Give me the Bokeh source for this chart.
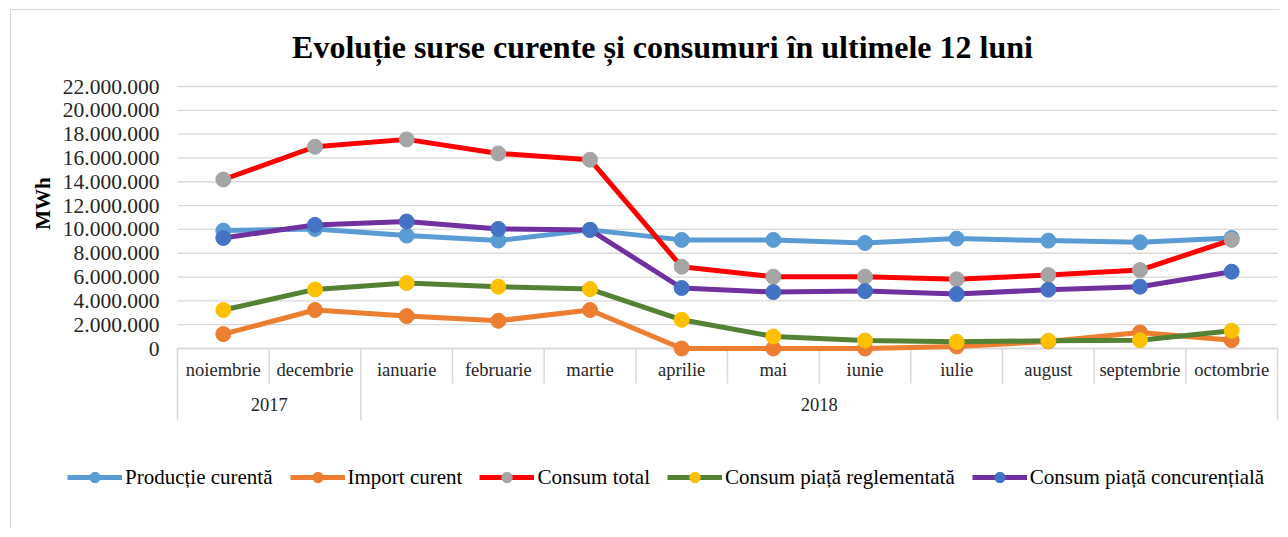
from bokeh.plotting import figure
from bokeh.models import Range1d, Legend, LegendItem, Label
from bokeh.core.properties import value
from bokeh.embed import file_html
from bokeh.resources import INLINE

# ---------------- data ----------------
months = ["noiembrie", "decembrie", "ianuarie", "februarie", "martie", "aprilie",
          "mai", "iunie", "iulie", "august", "septembrie", "octombrie"]
years = ["2017", "2018"]
months_per_year = [2, 10]

productie_curenta = [9900000, 10040000, 9480000, 9060000, 9960000, 9120000,
                     9120000, 8860000, 9230000, 9060000, 8920000, 9280000]
import_curent = [1210000, 3230000, 2720000, 2330000, 3230000, 0,
                 0, 0, 170000, 590000, 1350000, 700000]
consum_total = [14190000, 16940000, 17560000, 16380000, 15850000, 6870000,
                6030000, 6030000, 5810000, 6170000, 6590000, 9120000]
consum_reglementata = [3230000, 4960000, 5500000, 5190000, 4990000, 2410000,
                       1010000, 670000, 560000, 650000, 700000, 1490000]
consum_concurentiala = [9280000, 10380000, 10660000, 10040000, 9960000, 5080000,
                        4740000, 4820000, 4570000, 4940000, 5190000, 6450000]

y_ticks = [0, 2000000, 4000000, 6000000, 8000000, 10000000, 12000000,
           14000000, 16000000, 18000000, 20000000, 22000000]
y_tick_labels = ["0", "2.000.000", "4.000.000", "6.000.000", "8.000.000", "10.000.000",
                 "12.000.000", "14.000.000", "16.000.000", "18.000.000", "20.000.000",
                 "22.000.000"]

series_names = ["Producție curentă", "Import curent", "Consum total",
                "Consum piață reglementată", "Consum piață concurențială"]
series_values = [productie_curenta, import_curent, consum_total,
                 consum_reglementata, consum_concurentiala]
line_colors = ["#5B9BD5", "#ED7D31", "#FF0000", "#548235", "#7030A0"]
marker_colors = ["#5B9BD5", "#ED7D31", "#A5A5A5", "#FFC000", "#4472C4"]

title_text = "Evoluție surse curente și consumuri în ultimele 12 luni"
y_title = "MWh"

# ---------------- layout (page pixels) ----------------
FONT = "Liberation Serif"
GRID = "#D9D9D9"
TXT = "#262626"
X0, Y0 = 11, 10            # canvas origin on the page
W, H = 1269, 519           # canvas size
PL, PR = 177, 1277         # plot area left / right
PZ, PT = 348, 86           # value 0 / top tick

n = len(months)
x_per_px = n / (PR - PL)
y_per_px = y_ticks[-1] / (PZ - PT)


def X(px):
    return (px - PL) * x_per_px


def Y(py):
    return (PZ - py) * y_per_px


p = figure(width=W, height=H, output_backend="svg", toolbar_location=None,
           x_range=Range1d(X(X0), X(X0 + W)), y_range=Range1d(Y(Y0 + H), Y(Y0)),
           x_axis_type=None, y_axis_type=None,
           min_border=0, min_border_left=0, min_border_right=0,
           min_border_top=0, min_border_bottom=0)
p.styles = {"margin-left": "10px", "margin-top": "9px",
            "border-left": "1px solid #D9D9D9", "border-top": "1px solid #D9D9D9"}
p.outline_line_color = None
p.background_fill_color = "white"
p.border_fill_color = "white"
p.xgrid.visible = False
p.ygrid.visible = False

# horizontal gridlines and value labels
p.segment(x0=[0] * len(y_ticks), y0=y_ticks, x1=[n] * len(y_ticks), y1=y_ticks,
          line_color=GRID, line_width=1.3)
p.text(x=[X(159)] * len(y_ticks), y=y_ticks, text=y_tick_labels, text_font=value(FONT),
       text_font_size="21.5px", text_align="right", text_baseline="middle",
       text_color=TXT)

# category box (multi-level axis)
xs = [i + 0.5 for i in range(n)]
group_bounds = [0]
for c in months_per_year:
    group_bounds.append(group_bounds[-1] + c)
sx = list(range(n + 1))
sy1 = [Y(420) if k in group_bounds else Y(383) for k in sx]
p.segment(x0=sx, y0=[0] * len(sx), x1=sx, y1=sy1, line_color=GRID, line_width=1.5)
p.segment(x0=[0], y0=[0], x1=[n], y1=[0], line_color=GRID, line_width=1.5)
p.text(x=xs, y=[Y(369)] * n, text=months, text_font=value(FONT), text_font_size="18.5px",
       text_align="center", text_baseline="middle", text_color=TXT)
year_x = [(group_bounds[i] + group_bounds[i + 1]) / 2 for i in range(len(years))]
p.text(x=year_x, y=[Y(404)] * len(years), text=years, text_font=value(FONT),
       text_font_size="18.5px", text_align="center", text_baseline="middle",
       text_color=TXT)

# series
items = []
for name, vals, lc, mc in zip(series_names, series_values, line_colors, marker_colors):
    r1 = p.line(xs, vals, line_color=lc, line_width=5, line_join="round")
    r2 = p.scatter(xs, vals, size=15, fill_color=mc, line_color=mc, marker="circle")
    items.append(LegendItem(label=name, renderers=[r1, r2]))

legend = Legend(items=items, orientation="horizontal",
                location=(67 - X0, (Y0 + H) - 490),
                glyph_width=55, glyph_height=26, label_standoff=3, spacing=17,
                padding=0, margin=0, border_line_color=None, background_fill_alpha=0,
                label_text_font=FONT, label_text_font_size="21px",
                label_text_color="black")
p.add_layout(legend)

# title and value-axis title
p.add_layout(Label(x=662 - X0, y=(Y0 + H) - 46, x_units="screen", y_units="screen",
                   text=title_text, text_align="center", text_baseline="alphabetic",
                   text_font=FONT, text_font_size="32px", text_font_style="bold",
                   text_color="black"))
p.add_layout(Label(x=42 - X0, y=(Y0 + H) - 203, x_units="screen", y_units="screen",
                   text=y_title, angle=90, angle_units="deg", text_align="center",
                   text_baseline="middle", text_font=FONT, text_font_size="21px",
                   text_font_style="bold", text_color="black"))

open("out.html", "w").write(file_html(p, INLINE))
